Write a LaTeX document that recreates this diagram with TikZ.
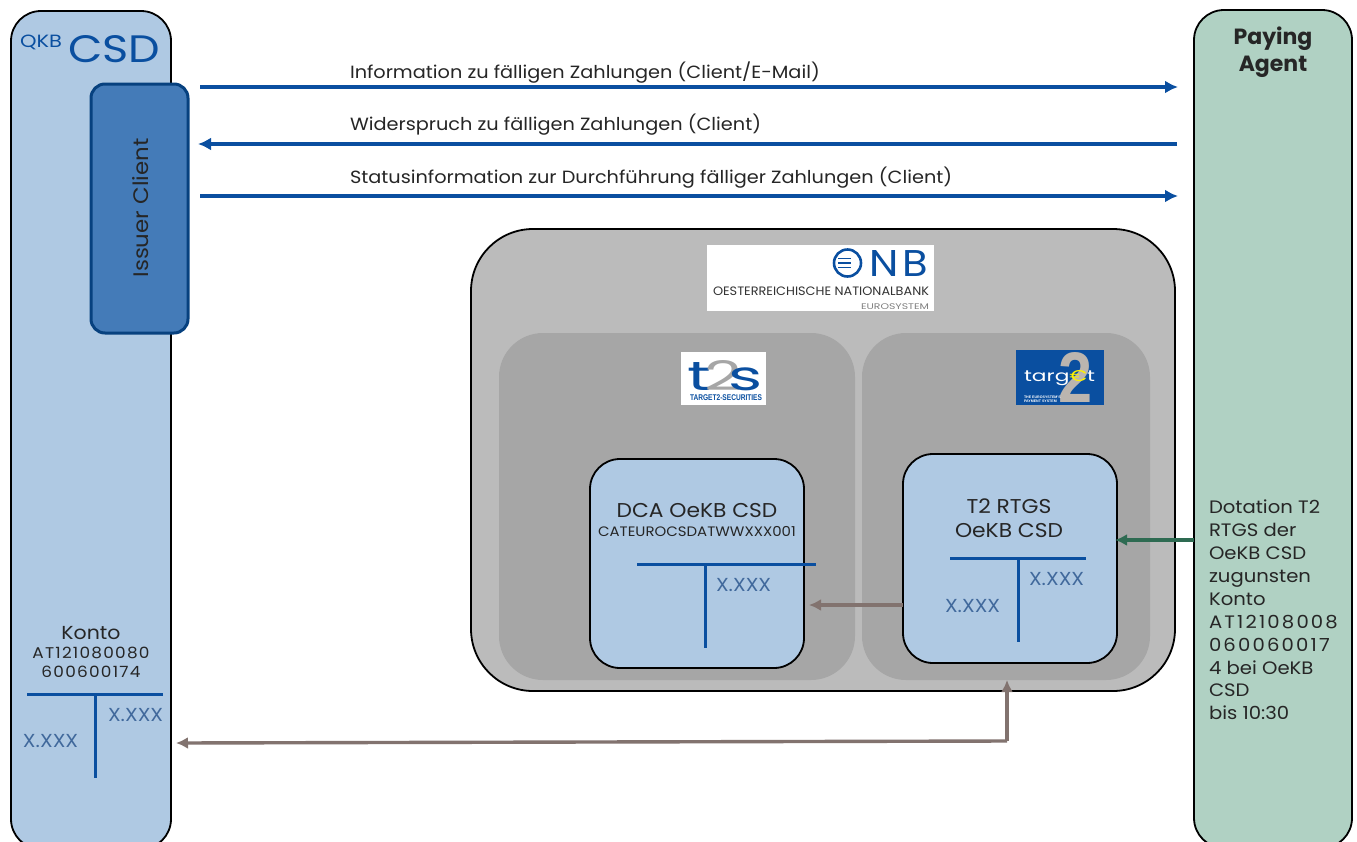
\documentclass[tikz,border=0pt]{standalone}
\usepackage{fontspec}
\setmainfont{Poppins}[FakeStretch=1.09]
\newfontfamily\logofont{Liberation Sans}
\newfontfamily\plainpop{Poppins}
\newcommand{\digitspaced}[2]{{\addfontfeatures{LetterSpace=#1}#2}}
\usetikzlibrary{arrows.meta,calc}
\definecolor{paleblue}{HTML}{AFC9E3}
\definecolor{midblue}{HTML}{447BB8}
\definecolor{darkblue}{HTML}{07417F}
\definecolor{lineblue}{HTML}{0A4FA0}
\definecolor{palegreen}{HTML}{B0D1C3}
\definecolor{lightgrey}{HTML}{BBBBBB}
\definecolor{darkgrey}{HTML}{A6A6A6}
\definecolor{taupe}{HTML}{82736F}
\definecolor{arrowgreen}{HTML}{2E6B52}
\definecolor{amounttext}{HTML}{41699C}
\definecolor{bodytext}{HTML}{262626}
\tikzset{
  every node/.style={outer sep=0},
  panel/.style={draw=black,line width=1.8pt,rounded corners=#1},
  msg/.style={draw=lineblue,line width=3.4pt,-{Latex[length=13pt,width=13pt]}},
  msgtext/.style={anchor=base west,inner sep=0,font=\fontsize{17.7}{20}\selectfont,text=bodytext},
  tbar/.style={draw=lineblue,line width=3pt},
  amount/.style={inner sep=0,font=\fontsize{18.8}{20}\selectfont,text=amounttext},
  flowgrey/.style={draw=taupe,line width=3.4pt},
  headgrey/.style={-{Latex[length=12pt,width=12pt]}},
  ctext/.style={align=center,inner sep=0,text=bodytext},
  logobg/.style={fill=white,inner sep=0}
}
\begin{document}
\begin{tikzpicture}[x=1pt,y=-1pt]
\useasboundingbox (0,0) rectangle (1357,841);
\clip (0,0) rectangle (1357,841);
\fill[white] (0,0) rectangle (1357,841);
% side columns
\node[panel=30pt,fill=paleblue,minimum width=160pt,minimum height=838pt,inner sep=0,anchor=north west] (csd) at (11,11) {};
\node[panel=30pt,fill=palegreen,minimum width=158pt,minimum height=838pt,inner sep=0,anchor=north west] (pay) at (1194,10) {};
\node[panel=14pt,draw=darkblue,line width=3pt,fill=midblue,minimum width=97pt,minimum height=249pt,inner sep=0,anchor=north west] (issuer) at (91,84) {};
\node[rotate=90,inner sep=0,font=\fontsize{21}{24}\selectfont,text=bodytext] (issuertxt) at (141,208) {Issuer Client};
% CSD logo
\node[inner sep=0,anchor=base west,text=lineblue] (oekb) at (20,47.5) {\resizebox{42pt}{12.5pt}{\plainpop QKB}};
\node[inner sep=0,anchor=base west,text=lineblue] (csdlogo) at (68,62) {\resizebox{92pt}{27pt}{\plainpop CSD}};
% paying agent
\node[ctext,font=\plainpop\bfseries\fontsize{22}{27}\selectfont] (paytxt) at (1273,52) {Paying\\Agent};
% ONB outer
\node[panel=62pt,fill=lightgrey,minimum width=704pt,minimum height=462pt,inner sep=0,anchor=north west] (onb) at (471,229) {};
\node[fill=darkgrey,rounded corners=44pt,minimum width=356pt,minimum height=347pt,inner sep=0,anchor=north west] (t2s) at (499,333) {};
\node[fill=darkgrey,rounded corners=44pt,minimum width=288pt,minimum height=347pt,inner sep=0,anchor=north west] (t2) at (862,333) {};
% ONB logo
\node[logobg,minimum width=227pt,minimum height=66pt,anchor=north west] (onblogo) at (707,245) {};
\draw[lineblue,line width=2.6pt] (847.5,263) circle (13.5);
\draw[lineblue,line width=1.4pt] (838,258.5) -- (851,258.5) (838,263) -- (851,263) (838,267.5) -- (851,267.5);
\node[inner sep=0,anchor=base west,text=lineblue] (onbname) at (869,276) {\resizebox{59pt}{26pt}{\plainpop N\kern1pt B}};
\node[inner sep=0,anchor=base west,font=\plainpop\fontsize{11}{12}\selectfont,text=black!80] (onbline) at (713,295) {\resizebox{216pt}{8.6pt}{OESTERREICHISCHE NATIONALBANK}};
\node[inner sep=0,anchor=base east,font=\plainpop\fontsize{8}{8}\selectfont,text=black!50] (onbeuro) at (929,309) {\resizebox{68pt}{5.8pt}{EUROSYSTEM}};
% t2s logo
\node[logobg,minimum width=85pt,minimum height=53pt,anchor=north west] (t2slogo) at (681,352) {};
\node[inner sep=0,anchor=base west,text=lineblue] (t2sname) at (687,390) {\resizebox{76pt}{30pt}{\plainpop t\kern-1pt\textcolor{black!35}{2}\kern-2pt s}};
\node[inner sep=0,anchor=base west,text=lineblue] (t2ssub) at (690,400.5) {\resizebox{72pt}{5.8pt}{\logofont\bfseries TARGET2-SECURITIES}};
% target2 logo
\node[fill=lineblue,minimum width=88pt,minimum height=55pt,inner sep=0,anchor=north west] (tgtlogo) at (1016,350) {};
\node[inner sep=0,anchor=base west,text=lightgrey!90!brown] (tgttwo) at (1058,402) {\resizebox{34pt}{50pt}{\logofont\bfseries 2}};
\node[inner sep=0,anchor=base west,text=white] (tgtname) at (1024,381) {\resizebox{71pt}{11pt}{\plainpop targ\textcolor{yellow}{€}t}};
\node[inner sep=0,anchor=north west,align=left,font=\logofont\fontsize{3.6}{4.2}\selectfont\bfseries,text=white] (tgtsub) at (1024,396) {THE EUROSYSTEM'S\\PAYMENT SYSTEM};
% accounts
\node[panel=30pt,fill=paleblue,minimum width=214pt,minimum height=209pt,inner sep=0,anchor=north west] (dca) at (590,459) {};
\node[panel=30pt,fill=paleblue,minimum width=214pt,minimum height=209pt,inner sep=0,anchor=north west] (rtgs) at (903,454) {};
\node[ctext,font=\fontsize{20}{24}\selectfont] (dcat) at (697,511) {DCA OeKB CSD};
\node[ctext,font=\fontsize{13.7}{16}\selectfont] (dcas) at (697,532) {CATEUROCSDATWWXXX001};
\node[ctext,font=\fontsize{20}{24}\selectfont] (rtgst) at (1009,518) {T2 RTGS\\OeKB CSD};
\draw[tbar] (637,564) -- (816,564) (705,564) -- (705,648);
\node[amount,anchor=base west] (dcar) at (716,591) {X.XXX};
\draw[tbar] (950,558) -- (1086,558) (1018,558) -- (1018,642);
\node[amount,anchor=base west] (rtgsr) at (1029,585) {X.XXX};
\node[amount,anchor=base west] (rtgsl) at (945,612) {X.XXX};
% konto
\node[ctext,font=\fontsize{18.8}{20}\selectfont] (konto) at (91,633) {Konto};
\node[ctext,font=\fontsize{15.5}{19}\selectfont] (kontonr) at (91,662) {\digitspaced{8}{AT121080080}\\\digitspaced{8}{600600174}};
\draw[tbar] (27,694) -- (163,694) (95,694) -- (95,778);
\node[amount,anchor=base west] (kr) at (108,721) {X.XXX};
\node[amount,anchor=base west] (kl) at (23,747) {X.XXX};
% messages
\coordinate (m1a) at (200,87); \coordinate (m1b) at (1178,87);
\coordinate (m2a) at (198,144); \coordinate (m2b) at (1177,144);
\coordinate (m3a) at (200,196); \coordinate (m3b) at (1178,196);
\draw[msg] (m1a) -- (m1b);
\draw[msg] (m2b) -- (m2a);
\draw[msg] (m3a) -- (m3b);
\node[msgtext] (m1t) at (350,78) {Information zu fälligen Zahlungen (Client/E-Mail)};
\node[msgtext] (m2t) at (350,130) {Widerspruch zu fälligen Zahlungen (Client)};
\node[msgtext] (m3t) at (350,183) {Statusinformation zur Durchführung fälliger Zahlungen (Client)};
% flows
\draw[flowgrey,headgrey] (903,605) -- (809,605);
\draw[draw=arrowgreen,line width=3.4pt,-{Latex[length=12pt,width=12pt]}] (1194,540) -- (1115,540);
\coordinate (elbow) at (1007,741);
\coordinate (rtgsin) at (1007,680);
\draw[flowgrey,headgrey] (elbow) -- (rtgsin);
\draw[flowgrey,headgrey] (elbow) -- (176,743);
% dotation
\node[anchor=north west,align=left,inner sep=0,font=\fontsize{18}{22.9}\selectfont,text=bodytext] (dot) at (1209,500) {Dotation T2\\RTGS der\\OeKB CSD\\zugunsten\\Konto\\\digitspaced{12}{AT12108008}\\\digitspaced{12}{060060017}\\4 bei OeKB\\CSD\\bis 10:30};
\end{tikzpicture}
\end{document}
